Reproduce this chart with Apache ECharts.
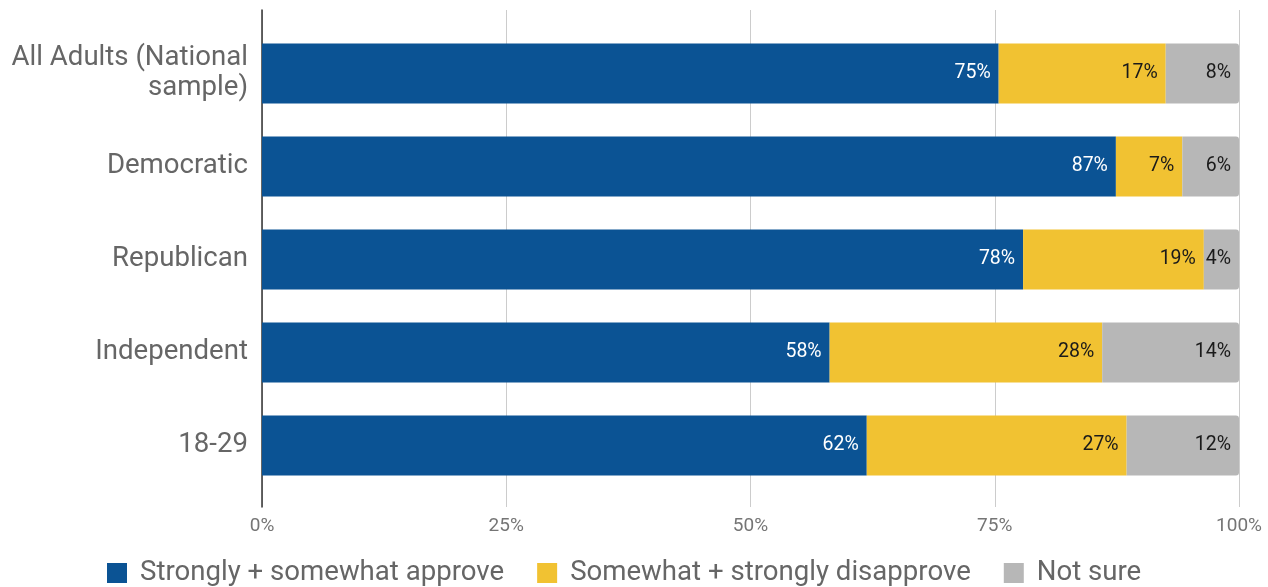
<!DOCTYPE html>
<html>
<head>
<meta charset="utf-8">
<script src="https://cdn.jsdelivr.net/npm/echarts@6/dist/echarts.min.js"></script>
<style>
html,body{margin:0;padding:0;background:#fff;}
#chart{width:1268px;height:587px;}
</style>
</head>
<body>
<div id="chart"></div>
<script>
const categories = ['All Adults (National\nsample)', 'Democratic', 'Republican', 'Independent', '18-29'];
const seriesNames = ['Strongly + somewhat approve', 'Somewhat + strongly disapprove', 'Not sure'];
const approve = [75.4, 87.4, 77.9, 58.1, 61.9];
const disapprove = [17.1, 6.8, 18.5, 27.9, 26.6];
const notSure = [7.5, 5.8, 3.6, 14.0, 11.5];
const tickValues = [0, 25, 50, 75, 100];
const colors = ['#0b5394', '#f1c232', '#b7b7b7'];

const chart = echarts.init(document.getElementById('chart'), null, {renderer: 'canvas'});
const font = 'Roboto, "Noto Sans", sans-serif';

function mk(name, data, color, labelColor, radius) {
  return {
    name: name,
    type: 'bar',
    stack: 'total',
    xAxisIndex: 0,
    yAxisIndex: 0,
    data: data,
    barWidth: 60,
    itemStyle: {color: color, borderRadius: radius},
    label: {
      show: true,
      position: 'insideRight',
      distance: 8,
      color: labelColor,
      fontSize: 19.5,
      fontFamily: font,
      formatter: p => Math.round(p.value) + '%'
    },
    emphasis: {disabled: true}
  };
}

chart.setOption({
  animation: false,
  color: colors,
  textStyle: {fontFamily: font},
  grid: [
    {left: 262, right: 29, top: 27, bottom: 95, containLabel: false},
    {left: 262, right: 29, top: 10, bottom: 80, containLabel: false}
  ],
  legend: {
    top: 554,
    left: 102,
    itemWidth: 20,
    itemHeight: 20,
    itemGap: 33,
    icon: 'rect',
    textStyle: {fontSize: 27.6, color: '#666666', fontFamily: font, padding: [0, 0, 0, 8]},
    data: seriesNames
  },
  xAxis: [
    {
      gridIndex: 0, type: 'value', min: 0, max: 100, interval: 25,
      axisLine: {show: false}, axisTick: {show: false},
      axisLabel: {show: false}, splitLine: {show: false}
    },
    {
      gridIndex: 1, type: 'value', min: 0, max: 100, interval: 25,
      axisLine: {show: false}, axisTick: {show: false},
      axisLabel: {color: '#757575', fontSize: 19, margin: 10, fontFamily: font,
        formatter: v => tickValues.indexOf(v) >= 0 ? v + '%' : ''},
      splitLine: {show: true, lineStyle: {color: '#cccccc', width: 1}}
    }
  ],
  yAxis: [
    {
      gridIndex: 0, type: 'category', data: categories, inverse: true,
      axisLine: {show: false}, axisTick: {show: false},
      axisLabel: {color: '#666666', fontSize: 27.6, margin: 14, lineHeight: 30, fontFamily: font, align: 'right'}
    },
    {
      gridIndex: 1, type: 'value', min: 0, max: 1,
      axisLine: {show: true, onZero: false, lineStyle: {color: '#333333', width: 1.5}},
      axisTick: {show: false}, axisLabel: {show: false}, splitLine: {show: false}
    }
  ],
  series: [
    mk(seriesNames[0], approve, colors[0], '#ffffff', 0),
    mk(seriesNames[1], disapprove, colors[1], '#1a1a1a', 0),
    mk(seriesNames[2], notSure, colors[2], '#1a1a1a', [0, 3, 3, 0])
  ]
});
</script>
</body>
</html>
